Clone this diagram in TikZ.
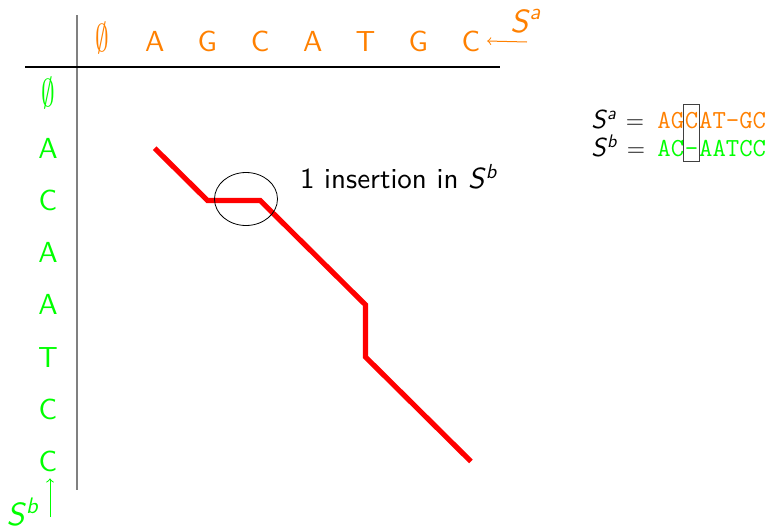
\documentclass[tikz,border=0pt]{standalone}
\usepackage{graphicx}
\usepackage{fontspec}
\setsansfont{lmsans10-regular}[Extension=.otf, ItalicFont=lmsans10-oblique, BoldFont=lmsans10-bold]
\usepackage{tikz}
\usetikzlibrary{positioning,fit,shapes.geometric}
\newcommand{\nullseq}{\raisebox{-0.3pt}{\scalebox{0.95}[1.35]{$\emptyset$}}}

\begin{document}
\begin{tikzpicture}[x=0.5pt, y=-0.5pt, >=to,
  every node/.style={font=\sffamily\fontsize{14.5}{17}\selectfont},
  toplet/.style={text=orange, text height=10pt, text depth=0pt},
  sidelet/.style={text=green, text height=10pt, text depth=0pt},
  ttseq/.style={font=\ttfamily\fontsize{13}{15.6}\selectfont, inner sep=0pt, text height=9pt, text depth=0pt, anchor=base west},
  seqlabel/.style={font=\sffamily\fontsize{16}{19}\selectfont},
  alignpath/.style={draw=red, line width=2.6pt}]
  \useasboundingbox (0,0) rectangle (772,531);
  % axes
  \draw[gray, line width=1pt] (77,15) -- (77,490);
  \draw[line width=0.6pt] (25,67) -- (500,67);
  % sequence letters
  \foreach \l [count=\i from 0] in {\nullseq,A,G,C,A,T,G,C}
    \node[toplet] (a\i) at (102+52.7*\i,41) {\l};
  \foreach \l [count=\j from 0] in {\nullseq,A,C,A,A,T,C,C}
    \node[sidelet] (b\j) at (48,96+52.2*\j) {\l};
  % alignment path
  \draw[alignpath] (a1 |- b1) -- (a2 |- b2) -- (a3 |- b2) -- (a5 |- b4) -- (a5 |- b5) -- (a7 |- b7);
  \node[draw, ellipse, minimum width=31.5pt, minimum height=26.5pt, inner sep=0pt] (gap) at (246,199) {};
  \node[anchor=west] (gapnote) at (293,177) {1 insertion in \textit{S}\textsuperscript{\textit{b}}};
  % sequence labels
  \coordinate (atail) at (527,42);
  \draw[->, orange, line width=0.5pt] (atail) -- (a7.east);
  \node[seqlabel, text=orange] (alab) at (526,21) {\textit{S}\textsuperscript{\textit{a}}};
  \coordinate (btail) at (50,517);
  \draw[->, green, line width=0.5pt] (btail) -- (btail |- b7.south);
  \node[seqlabel, text=green] (blab) at (23,512) {\textit{S}\textsuperscript{\textit{b}}};
  % pairwise alignment
  \node[anchor=base west, inner sep=0pt, font=\sffamily\fontsize{13}{15.6}\selectfont] (eqa) at (591,128) {\textit{S}\textsuperscript{\textit{a}} $=$};
  \node[anchor=base west, inner sep=0pt, font=\sffamily\fontsize{13}{15.6}\selectfont] (eqb) at (591,156) {\textit{S}\textsuperscript{\textit{b}} $=$};
  \node[ttseq, text=orange] (sa1) at (657,128) {AG};
  \node[ttseq, text=orange, right=0pt of sa1] (sa2) {C};
  \node[ttseq, text=orange, right=0pt of sa2] (sa3) {AT-GC};
  \node[ttseq, text=green] (sb1) at (657,156) {AC};
  \node[ttseq, text=green, right=0pt of sb1] (sb2) {-};
  \node[ttseq, text=green, right=0pt of sb2] (sb3) {AATCC};
  \node[draw=darkgray, fit=(sa2)(sb2), inner xsep=0.5pt, inner ysep=2.5pt] (gapcol) {};
\end{tikzpicture}
\end{document}
